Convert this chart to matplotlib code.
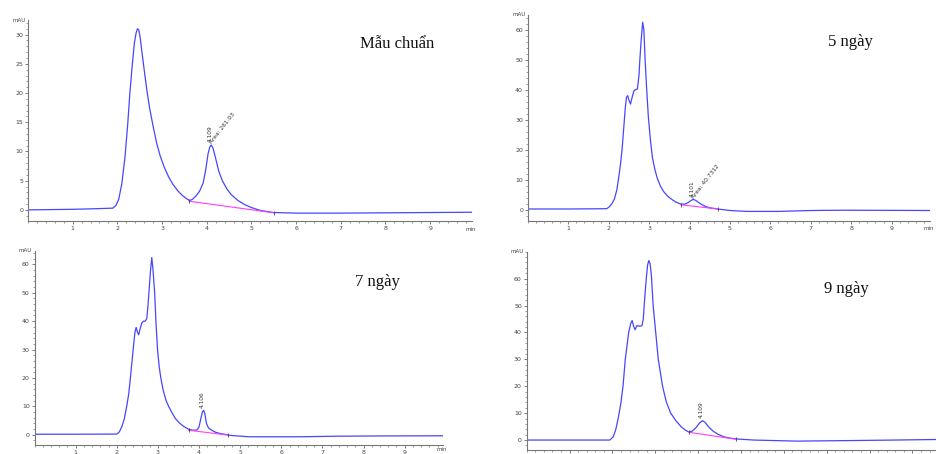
import matplotlib.pyplot as plt
from matplotlib.ticker import MultipleLocator

W, H = 936, 454

# --- data (time in min, signal in mAU) ---
std_time = [0, 0.5, 1.0, 1.5, 1.9, 1.97, 2.03, 2.1, 2.17, 2.23, 2.28, 2.33, 2.38, 2.42,
            2.45, 2.48, 2.51, 2.55, 2.6, 2.66, 2.72, 2.8, 2.88, 2.96, 3.05, 3.15, 3.25,
            3.35, 3.45, 3.55, 3.62, 3.68, 3.76, 3.84, 3.92, 3.98, 4.03, 4.07, 4.1, 4.14,
            4.2, 4.27, 4.35, 4.45, 4.55, 4.7, 4.85, 5.0, 5.2, 5.5, 6.0, 7.0, 8.0, 9.0, 9.93]
std_mau = [0, 0.05, 0.1, 0.2, 0.3, 0.8, 1.8, 4.5, 9.0, 14.5, 20, 24.5, 28.5, 30.3,
           31, 30.8, 29.5, 27, 24, 20.5, 17.5, 14.3, 11.4, 9.2, 7.3, 5.6, 4.3,
           3.3, 2.5, 1.9, 1.6, 1.8, 2.4, 3.2, 4.6, 7.0, 9.6, 10.8, 11.1, 10.6,
           8.8, 6.6, 5.0, 3.6, 2.6, 1.6, 0.9, 0.4, -0.1, -0.45, -0.55, -0.55, -0.5, -0.45, -0.4]

d5_time = [0, 1.0, 1.95, 2.02, 2.08, 2.14, 2.2, 2.24, 2.29, 2.33, 2.37, 2.41, 2.44, 2.47,
           2.5, 2.54, 2.58, 2.62, 2.66, 2.71, 2.75, 2.77, 2.8, 2.84, 2.87, 2.9, 2.94,
           2.98, 3.03, 3.08, 3.14, 3.2, 3.28, 3.36, 3.45, 3.55, 3.65, 3.77, 3.88, 3.96,
           4.03, 4.09, 4.15, 4.22, 4.3, 4.4, 4.5, 4.7, 5.0, 5.4, 6.2, 7.0, 7.8, 9.0, 9.95]
d5_mau = [0.2, 0.2, 0.3, 1.0, 2.0, 3.5, 6.5, 10, 15, 20, 27, 34, 37.5, 38,
          36.5, 35.2, 37.5, 39.5, 40, 40.2, 45, 50, 56, 62.5, 60, 50, 40,
          31, 23.5, 17.5, 13.5, 10.5, 7.8, 6.0, 4.6, 3.5, 2.6, 1.9, 1.8, 2.3,
          3.0, 3.4, 3.1, 2.4, 1.7, 1.0, 0.6, 0.2, -0.3, -0.6, -0.6, -0.3, -0.2, -0.25, -0.3]

d7_time = [0, 1.0, 2.0, 2.06, 2.12, 2.18, 2.24, 2.29, 2.33, 2.37, 2.41, 2.44, 2.47, 2.5,
           2.53, 2.57, 2.61, 2.65, 2.69, 2.73, 2.76, 2.79, 2.82, 2.85, 2.88, 2.92, 2.95,
           2.99, 3.03, 3.07, 3.13, 3.2, 3.26, 3.34, 3.42, 3.52, 3.62, 3.74, 3.85, 3.95,
           4.0, 4.04, 4.08, 4.11, 4.14, 4.18, 4.23, 4.31, 4.4, 4.5, 4.75, 5.2, 6.5, 7.3,
           8.5, 9.94]
d7_mau = [0.2, 0.2, 0.25, 1.0, 2.8, 5.5, 10, 14.5, 20, 26, 32, 36, 37.8, 36.2,
          35.2, 37.5, 39.5, 40, 40, 41, 46, 52, 58, 62.4, 58, 50, 40,
          30, 24, 20, 15.5, 12, 10, 7.8, 5.8, 4.2, 3.0, 2.0, 1.6, 1.7,
          2.8, 5.5, 8.0, 8.6, 7.5, 4.0, 2.4, 1.6, 0.9, 0.5, -0.2, -0.7, -0.7, -0.5,
          -0.4, -0.35]

d9_time = [0, 1.0, 1.94, 2.02, 2.08, 2.14, 2.2, 2.25, 2.3, 2.34, 2.38, 2.43, 2.46, 2.5,
           2.53, 2.57, 2.64, 2.69, 2.72, 2.75, 2.79, 2.82, 2.85, 2.88, 2.91, 2.95, 3.01,
           3.07, 3.17, 3.26, 3.36, 3.48, 3.6, 3.7, 3.78, 3.86, 3.95, 4.03, 4.1, 4.16,
           4.25, 4.35, 4.47, 4.6, 4.75, 4.9, 5.3, 6.3, 7.5, 8.6, 9.55]
d9_mau = [0, 0, 0, 1.2, 4.0, 8.5, 14, 20.5, 30, 35, 40, 43.5, 44.4, 42,
          41, 42.5, 42.3, 42.5, 45, 52, 60, 65, 66.7, 65.5, 61, 50, 40,
          30, 20, 14, 10, 7.2, 5.0, 3.7, 3.0, 3.3, 4.6, 6.3, 7.2, 6.6,
          4.8, 3.3, 2.1, 1.2, 0.7, 0.4, 0.0, -0.4, -0.2, 0.0, 0.2]

# integration baselines (start, end) under the small peak
std_base = ([3.6, 5.5], [1.5, -0.5])
d5_base = ([3.78, 4.7], [1.6, 0.2])
d7_base = ([3.75, 4.7], [1.6, -0.1])
d9_base = ([3.78, 4.88], [2.9, 0.3])

panels = [
    # name, time, signal, baseline, rt label, area label, peak (t, y),
    # box (l, r, top, bottom px), xmax, ylim, y major, y minor, title pos, show x labels
    ('Mẫu chuẩn', std_time, std_mau, std_base, '4.109', 'Area: 261.03', (4.1, 11.1),
     (28, 471.7, 20, 221), 9.93, (-1.9, 32.5), 5, 1, (397, 44), True),
    ('5 ngày', d5_time, d5_mau, d5_base, '4.101', 'Area: 40.7312', (4.09, 3.4),
     (527.9, 930, 15, 220.7), 9.95, (-3.7, 64.9), 10, 2, (850, 42), True),
    ('7 ngày', d7_time, d7_mau, d7_base, '4.106', None, (4.11, 8.6),
     (34.6, 443.3, 250.7, 445.3), 9.94, (-3.7, 64.8), 10, 2, (377, 282), True),
    ('9 ngày', d9_time, d9_mau, d9_base, '4.109', None, (4.1, 7.2),
     (526.7, 936, 251.7, 450), 9.55, (-3.7, 70), 10, 2, (846, 289), False),
]

fig = plt.figure(figsize=(W / 100, H / 100), dpi=100)
fig.patch.set_facecolor('white')

for (name, t, y, base, rt, area, pk, box, xmax, ylim, ymaj, ymin, tpos, xlab) in panels:
    l, r, top, bot = box
    ax = fig.add_axes([l / W, 1 - bot / H, (r - l) / W, (bot - top) / H])
    ax.plot(t, y, color='#4646ff', lw=0.9)
    ax.plot(base[0], base[1], color='#ff3cff', lw=0.8)
    ax.plot(base[0], base[1], ls='none', marker='|', ms=2.5, mew=0.6, color='#444444')
    ax.set_xlim(0, xmax)
    ax.set_ylim(*ylim)
    for s in ['top', 'right']:
        ax.spines[s].set_visible(False)
    for s in ['left', 'bottom']:
        ax.spines[s].set_color('#777777')
        ax.spines[s].set_linewidth(0.8)
    ax.xaxis.set_minor_locator(MultipleLocator(0.2))
    ax.yaxis.set_minor_locator(MultipleLocator(ymin))
    ax.set_xticks([v for v in range(1, 10) if v < xmax])
    ax.set_yticks([v for v in range(0, int(ylim[1]) + 1, ymaj) if v < ylim[1] - 1])
    ax.tick_params(which='major', length=2.5, width=0.6, color='#666666',
                   labelsize=4.5, labelcolor='#444444', pad=1.0)
    ax.tick_params(which='minor', length=1.5, width=0.5, color='#777777')
    ax.tick_params(axis='x', labelbottom=xlab)
    ax.text(-0.006, 1.0, 'mAU', transform=ax.transAxes, ha='right', va='center',
            fontsize=4, color='#444444')
    if xlab:
        off = -4 if bot < 400 else -1.5
        ax.annotate('min', xy=(1, 0), xycoords='axes fraction', xytext=(-1, off),
                    textcoords='offset points', ha='center', va='top',
                    fontsize=4, color='#444444', annotation_clip=False)
    # peak labels
    ax.annotate(rt, xy=pk, xytext=(-1, 2), textcoords='offset points',
                rotation=90, ha='center', va='bottom', fontsize=4.2, color='#333333')
    if area:
        ax.annotate(area, xy=pk, xytext=(1.5, 0), textcoords='offset points',
                    rotation=52, rotation_mode='anchor', ha='left', va='bottom',
                    fontsize=4.2, color='#333333')
    fig.text(tpos[0] / W, 1 - tpos[1] / H, name, ha='center', va='center',
             fontsize=12, family=['Liberation Serif', 'DejaVu Serif'], color='#111111')

fig.savefig('out.png', dpi=100)
